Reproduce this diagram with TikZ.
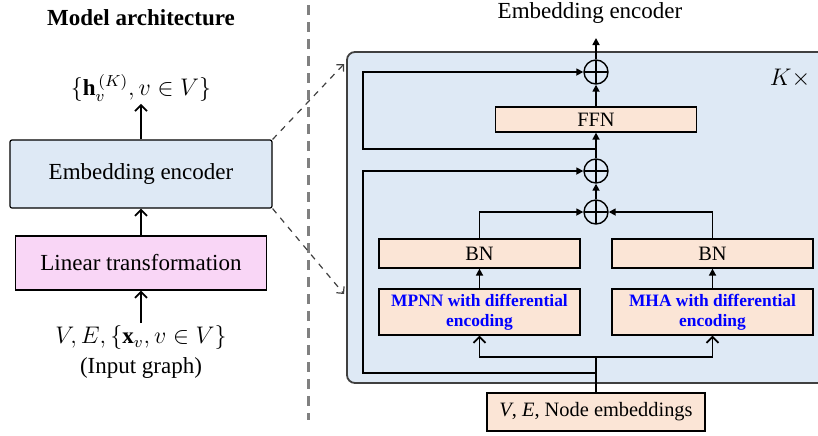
\documentclass[tikz,border=0pt]{standalone}
\usepackage{fontspec}
\setmainfont{Liberation Serif}
\usetikzlibrary{arrows.meta,positioning,calc}
\definecolor{encblue}{RGB}{222,233,245}
\definecolor{linpink}{RGB}{249,214,246}
\definecolor{layerpeach}{RGB}{251,229,214}
\definecolor{framegray}{RGB}{64,64,64}
\definecolor{sepgray}{RGB}{128,128,128}
\newcommand{\bodyfont}{\fontsize{11.5}{15}\selectfont}
\newcommand{\layerfont}{\fontsize{10.2}{12}\selectfont}

\begin{document}
\begin{tikzpicture}[x=0.5pt, y=-0.5pt,
    box/.style={draw, rectangle, inner sep=0pt, line width=0.6pt},
    layer/.style={box, fill=layerpeach, minimum width=100.5pt, font=\layerfont},
    addnode/.style={circle, draw, line width=0.7pt, minimum size=12pt, inner sep=0pt,
        path picture={\draw[line width=0.7pt]
            (path picture bounding box.north) -- (path picture bounding box.south)
            (path picture bounding box.west) -- (path picture bounding box.east);}},
    flow/.style={-{Triangle[length=3.5pt,width=3.5pt]}, line width=0.8pt},
    feed/.style={-{Straight Barb[length=3pt,width=6pt]}, line width=0.9pt},
    zoomline/.style={dashed, framegray, line width=0.6pt, -{Straight Barb[length=2.5pt,width=5pt]}},
    label/.style={font=\bodyfont, inner sep=1pt}]
    \useasboundingbox (0,0) rectangle (818,435);

    % Left: model architecture
    \node[label, font=\bodyfont\bfseries] (title) at (141,18) {Model architecture};
    \node[label] (hout) at (141,88) {$\{\mathbf{h}_v^{\,(K)}, v \in V\}$};
    \node[box, fill=encblue, rounded corners=1pt, minimum width=131pt, minimum height=34pt, font=\bodyfont]
        (enc) at (141,174) {Embedding encoder};
    \node[box, fill=linpink, minimum width=125.5pt, minimum height=27pt, font=\bodyfont]
        (lin) at (141,263) {Linear transformation};
    \node[label, align=center] (inp) at (141,352) {$V, E, \{\mathbf{x}_v, v \in V\}$\\(Input graph)};

    \draw[feed] (enc.north) -- (hout.south);
    \draw[feed] (lin.north) -- (enc.south);
    \draw[feed] (inp.north) -- (lin.south);

    % Separator
    \draw[sepgray, line width=1.5pt, dash pattern=on 5pt off 3.5pt] (308,5) -- (308,420);

    % Zoom lines
    \coordinate (zoomtop) at (344,64);
    \coordinate (zoombot) at (344,294);
    \draw[zoomline] (enc.north east) -- (zoomtop);
    \draw[zoomline] (enc.south east) -- (zoombot);

    % Right: embedding encoder block
    \draw[framegray, line width=0.9pt, fill=encblue, rounded corners=4pt] (347,52) rectangle (840,383);
    \node[label] (ktimes) at (790,78) {$K\times$};

    \node[addnode] (add1) at (596,72) {};
    \node[layer, minimum height=12.5pt] (ffn) at (596,119.5) {FFN};
    \node[addnode] (add2) at (596,171) {};
    \node[addnode] (add3) at (596,212) {};
    \node[layer, minimum height=14.5pt] (bnl) at (479.5,253.5) {BN};
    \node[layer, minimum height=14.5pt] (bnr) at (712.5,253.5) {BN};
    \node[layer, minimum height=23pt, font=\fontsize{8.7}{10}\selectfont\bfseries, text=blue, align=center]
        (mpnn) at (479.5,312) {MPNN with differential\\encoding};
    \node[layer, minimum height=23pt, font=\fontsize{8.7}{10}\selectfont\bfseries, text=blue, align=center]
        (mha) at (712.5,312) {MHA with differential\\encoding};
    \node[layer, minimum width=109pt, minimum height=19pt] (nemb) at (596,412)
        {\textit{V}, \textit{E}, Node embeddings};

    \coordinate (split) at (596,357);
    \coordinate (loopbot) at (596,373);
    \coordinate (loopmid) at (596,149);
    \coordinate (rail1) at (363,72);
    \coordinate (rail2) at (363,171);
    \coordinate (encout) at (596,38);
    \node[label] (outlabel) at (590,13) {Embedding encoder};

    % Connectors
    \draw[line width=0.8pt] (nemb.north) -- (split);
    \draw[feed] (split) -| (mpnn.south);
    \draw[feed] (split) -| (mha.south);
    \draw[flow] (loopbot) -| (rail2) -- (add2.west);
    \draw[flow] (loopmid) -| (rail1) -- (add1.west);
    \draw[flow] (mpnn.north) -- (bnl.south);
    \draw[flow] (mha.north) -- (bnr.south);
    \draw[flow] (bnl.north) |- (add3.west);
    \draw[flow] (bnr.north) |- (add3.east);
    \draw[flow] (add3.north) -- (add2.south);
    \draw[flow] (add2.north) -- (ffn.south);
    \draw[flow] (ffn.north) -- (add1.south);
    \draw[flow] (add1.north) -- (encout);
\end{tikzpicture}
\end{document}
